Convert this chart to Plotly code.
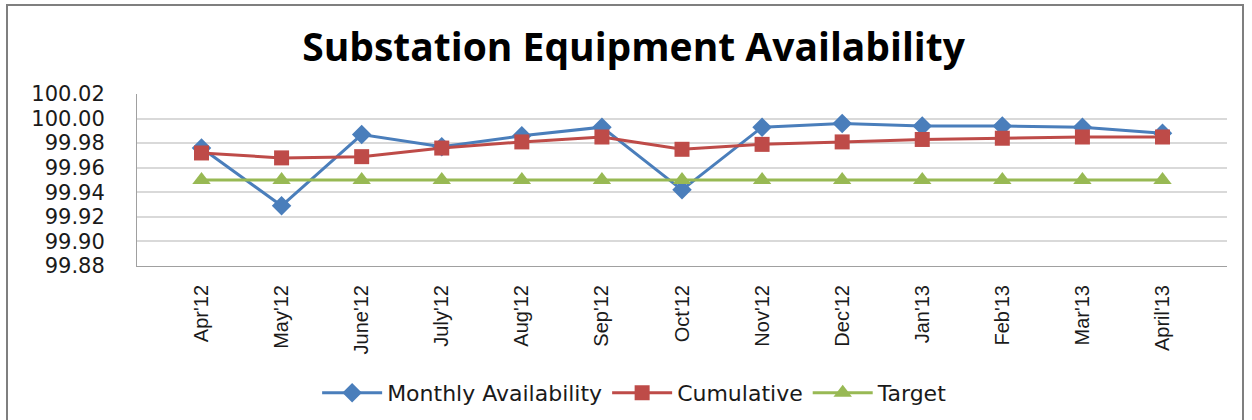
import plotly.graph_objects as go

months = ["Apr'12", "May'12", "June'12", "July'12", "Aug'12", "Sep'12", "Oct'12",
          "Nov'12", "Dec'12", "Jan'13", "Feb'13", "Mar'13", "April'13"]
monthly = [99.976, 99.929, 99.987, 99.977, 99.986, 99.993, 99.942,
           99.993, 99.996, 99.994, 99.994, 99.993, 99.988]
cumulative = [99.972, 99.968, 99.969, 99.976, 99.981, 99.985, 99.975,
              99.979, 99.981, 99.983, 99.984, 99.985, 99.985]
target = [99.95] * 13
y_ticks = [99.88, 99.90, 99.92, 99.94, 99.96, 99.98, 100.00, 100.02]

fig = go.Figure()
fig.add_trace(go.Scatter(x=months, y=monthly, name="Monthly Availability", mode="lines+markers",
                         line=dict(color="#4a7ebb", width=3),
                         marker=dict(symbol="diamond", size=15, color="#4a7ebb")))
fig.add_trace(go.Scatter(x=months, y=cumulative, name="Cumulative", mode="lines+markers",
                         line=dict(color="#be4b48", width=3),
                         marker=dict(symbol="square", size=15, color="#be4b48")))
fig.add_trace(go.Scatter(x=months, y=target, name="Target", mode="lines+markers",
                         line=dict(color="#98b954", width=3),
                         marker=dict(symbol="triangle-up", size=16, color="#98b954")))

fig.update_layout(
    width=1252, height=420,
    margin=dict(l=137, r=25, t=94, b=154, autoexpand=False),
    paper_bgcolor="white", plot_bgcolor="white",
    title=dict(text="<b>Substation Equipment Availability</b>", x=0.506, xanchor="center",
               y=0.888, yanchor="middle",
               font=dict(family="Open Sans, DejaVu Sans, sans-serif", size=39, color="black")),
    showlegend=True,
    legend=dict(orientation="h", x=0.457, xanchor="center", y=-0.738, yanchor="middle",
                font=dict(family="DejaVu Sans, Verdana, sans-serif", size=22, color="#1a1a1a"),
                itemwidth=60, tracegroupgap=0),
    font=dict(family="DejaVu Sans, sans-serif", color="black"),
)
fig.update_xaxes(type="category", tickangle=-90, showgrid=False, showline=True,
                 linecolor="#a0a0a0", linewidth=1, mirror=False, ticks="",
                 tickfont=dict(family="Liberation Sans Narrow, Liberation Sans, sans-serif", size=20,
                               color="#1a1a1a"),
                 ticklabelstandoff=10)
fig.update_yaxes(range=[99.88, 100.02], tickvals=y_ticks, ticktext=[f"{v:.2f}" for v in y_ticks],
                 showgrid=True, gridcolor="#d9d9d9", gridwidth=2,
                 showline=True, linecolor="#a0a0a0", linewidth=1, mirror=False,
                 zeroline=False, ticks="", ticklabelstandoff=27,
                 tickfont=dict(family="DejaVu Sans, Verdana, sans-serif", size=21, color="#1a1a1a"))

fig.add_shape(type="rect", xref="paper", yref="paper",
              x0=-130/1090, x1=(1243-137)/1090, y0=-1.0, y1=(266-5)/172,
              line=dict(color="#7f7f7f", width=2), layer="below")

fig.write_html("out.html", config={"displayModeBar": False},
               post_script="document.body.style.margin='0';")
